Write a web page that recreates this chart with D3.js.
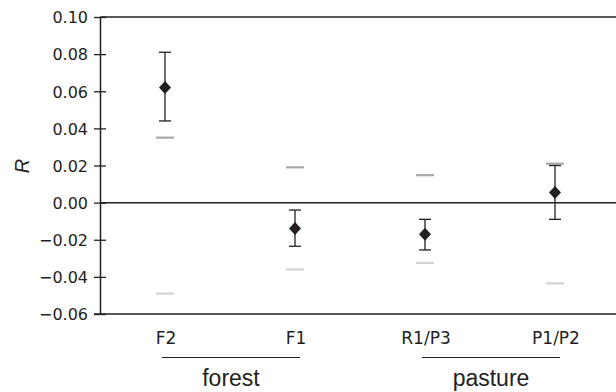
<!DOCTYPE html>
<html>
<head>
<meta charset="utf-8">
<script src="https://d3js.org/d3.v7.min.js"></script>
<style>
  body { margin: 0; background: #fff; }
  text { font-family: "Liberation Sans", Arial, sans-serif; fill: #231f20; }
</style>
</head>
<body>
<div id="chart"></div>
<script>
// data
var sites = ["F2", "F1", "R1/P3", "P1/P2"];
var meanR = [0.062, -0.014, -0.017, 0.0055];
var upperR = [0.081, -0.004, -0.009, 0.020];
var lowerR = [0.044, -0.0235, -0.0255, -0.009];
var nullHigh = [0.035, 0.019, 0.0148, 0.021];
var nullLow = [-0.049, -0.036, -0.0325, -0.0435];
var groups = ["forest", "pasture"];
var groupSpan = [["F2", "F1"], ["R1/P3", "P1/P2"]];
var yTicks = [0.10, 0.08, 0.06, 0.04, 0.02, 0.00, -0.02, -0.04, -0.06];

var width = 616, height = 392;
var plotLeft = 100, plotRight = 620, plotTop = 17, plotBottom = 314;

var svg = d3.select("#chart")
  .append("svg")
    .attr("width", width)
    .attr("height", height);

var x = d3.scaleBand()
    .domain(sites)
    .range([plotLeft, plotRight]);
var y = d3.scaleLinear()
    .domain([-0.06, 0.10])
    .range([plotBottom, plotTop]);

var cx = function(d) { return x(d) + x.bandwidth() / 2; };
var fmt = function(d) { return d3.format(".2f")(d).replace("-", "\u2212"); };

// top border and zero line
svg.append("line")
    .attr("x1", plotLeft).attr("x2", width)
    .attr("y1", y(0.10)).attr("y2", y(0.10))
    .attr("stroke", "#231f20").attr("stroke-width", 1.5);
svg.append("line")
    .attr("x1", plotLeft).attr("x2", width)
    .attr("y1", y(0)).attr("y2", y(0))
    .attr("stroke", "#231f20").attr("stroke-width", 1.5);

// y axis
var yAxis = svg.append("g")
    .attr("transform", "translate(" + plotLeft + ",0)")
    .call(d3.axisLeft(y).tickValues(yTicks).tickFormat(fmt).tickSize(6).tickSizeOuter(0));
yAxis.select(".domain").attr("stroke", "#231f20").attr("stroke-width", 1.5);
yAxis.selectAll(".tick line").clone()
    .attr("x2", 6);
yAxis.selectAll(".tick line").attr("stroke", "#231f20").attr("stroke-width", 1.3);
yAxis.selectAll(".tick text")
    .attr("x", -12)
    .attr("dy", "0.36em")
    .style("font-size", "16px")
    .style("font-family", "'DejaVu Sans', sans-serif")
    .attr("fill", "#231f20");

// x baseline
svg.append("line")
    .attr("x1", plotLeft - 6).attr("x2", width)
    .attr("y1", y(-0.06)).attr("y2", y(-0.06))
    .attr("stroke", "#231f20").attr("stroke-width", 1.5);

// y label
svg.append("text")
    .attr("transform", "translate(29,166) rotate(-90)")
    .attr("text-anchor", "middle")
    .style("font-size", "20px")
    .style("font-style", "italic")
    .text("R");

// site labels
svg.selectAll(".site")
    .data(sites)
    .enter()
  .append("text")
    .attr("x", function(d) { return cx(d) + 1; })
    .attr("y", 343.5)
    .attr("text-anchor", "middle")
    .style("font-size", "17px")
    .style("font-family", "'DejaVu Sans', sans-serif")
    .text(function(d) { return d; });

// group lines and labels
svg.selectAll(".gline")
    .data(groupSpan)
    .enter()
  .append("line")
    .attr("x1", function(d) { return cx(d[0]) - 3; })
    .attr("x2", function(d) { return cx(d[1]) + 5; })
    .attr("y1", 357.5).attr("y2", 357.5)
    .attr("stroke", "#231f20").attr("stroke-width", 1.2);
svg.selectAll(".glabel")
    .data(groups)
    .enter()
  .append("text")
    .attr("x", function(d, i) { return (cx(groupSpan[i][0]) + cx(groupSpan[i][1])) / 2 + 1; })
    .attr("y", 385.5)
    .attr("text-anchor", "middle")
    .style("font-size", "23px")
    .text(function(d) { return d; });

// null envelope dashes
svg.selectAll(".nhigh")
    .data(sites)
    .enter()
  .append("line")
    .attr("x1", function(d) { return cx(d) - 9; })
    .attr("x2", function(d) { return cx(d) + 9; })
    .attr("y1", function(d, i) { return y(nullHigh[i]); })
    .attr("y2", function(d, i) { return y(nullHigh[i]); })
    .attr("stroke", "#a7a9ac").attr("stroke-width", 2.2);
svg.selectAll(".nlow")
    .data(sites)
    .enter()
  .append("line")
    .attr("x1", function(d) { return cx(d) - 9; })
    .attr("x2", function(d) { return cx(d) + 9; })
    .attr("y1", function(d, i) { return y(nullLow[i]); })
    .attr("y2", function(d, i) { return y(nullLow[i]); })
    .attr("stroke", "#d1d3d4").attr("stroke-width", 2.2);

// error bars
var err = svg.selectAll(".err")
    .data(sites)
    .enter()
  .append("g");
err.append("line")
    .attr("x1", function(d) { return cx(d); })
    .attr("x2", function(d) { return cx(d); })
    .attr("y1", function(d, i) { return y(upperR[i]); })
    .attr("y2", function(d, i) { return y(lowerR[i]); })
    .attr("stroke", "#231f20").attr("stroke-width", 1.3);
err.append("line")
    .attr("x1", function(d) { return cx(d) - 6; })
    .attr("x2", function(d) { return cx(d) + 6; })
    .attr("y1", function(d, i) { return y(upperR[i]); })
    .attr("y2", function(d, i) { return y(upperR[i]); })
    .attr("stroke", "#231f20").attr("stroke-width", 1.3);
err.append("line")
    .attr("x1", function(d) { return cx(d) - 6; })
    .attr("x2", function(d) { return cx(d) + 6; })
    .attr("y1", function(d, i) { return y(lowerR[i]); })
    .attr("y2", function(d, i) { return y(lowerR[i]); })
    .attr("stroke", "#231f20").attr("stroke-width", 1.3);

// diamonds
svg.selectAll(".pt")
    .data(sites)
    .enter()
  .append("path")
    .attr("d", "M0,-6.5L6,0L0,6.5L-6,0Z")
    .attr("transform", function(d, i) { return "translate(" + cx(d) + "," + y(meanR[i]) + ")"; })
    .attr("fill", "#231f20");
</script>
</body>
</html>
